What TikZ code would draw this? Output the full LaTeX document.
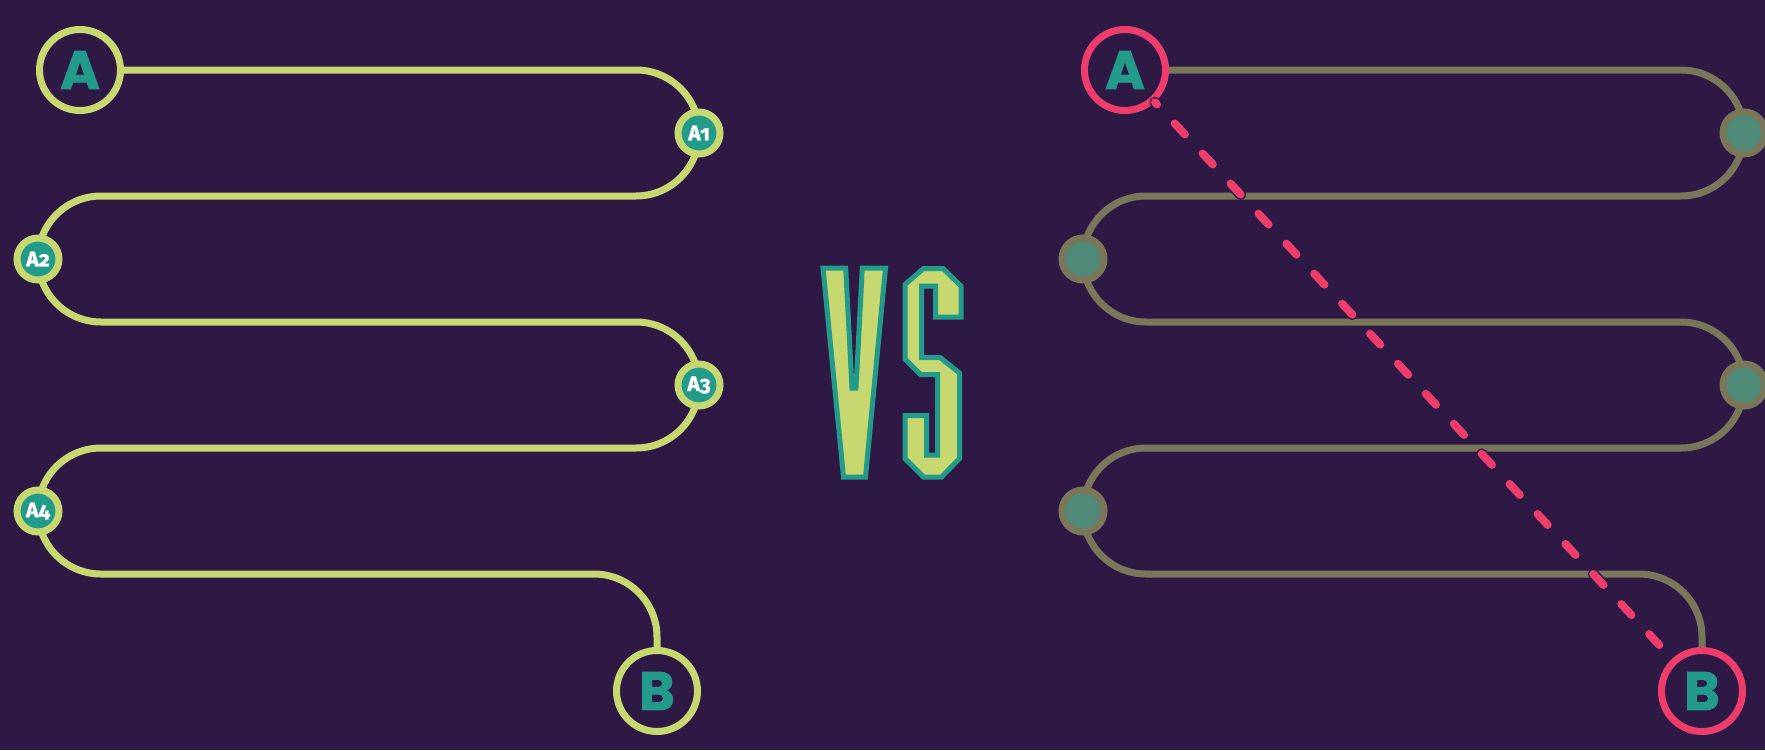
\documentclass[tikz,border=0pt]{standalone}
\usepackage{fontspec}
\setmainfont{Fira Sans}
\newfontfamily\bigfont{Poppins}[BoldFeatures={FakeBold=1.5}]
\newfontfamily\smallfont{Fira Sans}[Numbers=OldStyle,BoldFeatures={FakeBold=1.5}]
\definecolor{bg}{HTML}{2E1945}
\definecolor{limec}{HTML}{C8D870}
\definecolor{tealc}{HTML}{229B8B}
\definecolor{pinkc}{HTML}{EE3D6B}
\definecolor{olivec}{HTML}{7A7659}
\definecolor{mutedc}{HTML}{4E8A77}
\begin{document}
\begin{tikzpicture}[x=1pt,y=-1pt,
  bignode/.style={circle,line width=7pt,minimum size=81pt,inner sep=0pt,fill=bg,
    text=tealc,font=\bigfont\bfseries\fontsize{54}{54}\selectfont},
  smallnode/.style={circle,line width=7pt,minimum size=42pt,inner sep=0pt,
    text=white,font=\smallfont\bfseries\fontsize{21}{21}\selectfont},
  lpath/.style={draw=limec,line width=7pt},
  rpath/.style={draw=olivec,line width=7pt},
  dashline/.style={line width=#1,line cap=round,dash pattern=on 15pt off 26pt,dash phase=12pt},
  vsletter/.style={fill=limec,draw=tealc,line width=5pt,line join=miter}]
\useasboundingbox (0,0) rectangle (1765,750);
\fill[bg] (0,0) rectangle (1765,750);

% big end nodes
\node[bignode,draw=limec] (A) at (80,70) {A};
\node[bignode,draw=limec] (B) at (657,691) {B};
\node[bignode,draw=pinkc] (RA) at (1125,70) {A};
\node[bignode,draw=pinkc] (RB) at (1702,691) {B};

% left serpentine
\draw[lpath] (A) -- (636,70) arc[start angle=-90,end angle=90,radius=63]
  -- (101,196) arc[start angle=-90,end angle=-270,radius=63]
  -- (636,322) arc[start angle=-90,end angle=90,radius=63]
  -- (101,448) arc[start angle=-90,end angle=-270,radius=63]
  -- (594,574) arc[start angle=-90,end angle=0,radius=63] -- (B);

% right serpentine
\draw[rpath] (RA) -- (1681,70) arc[start angle=-90,end angle=90,radius=63]
  -- (1146,196) arc[start angle=-90,end angle=-270,radius=63]
  -- (1681,322) arc[start angle=-90,end angle=90,radius=63]
  -- (1146,448) arc[start angle=-90,end angle=-270,radius=63]
  -- (1639,574) arc[start angle=-90,end angle=0,radius=63] -- (RB);

% direct dashed route
\draw[bg,dashline=11pt] (RA) -- (RB);
\draw[pinkc,dashline=8pt] (RA) -- (RB);

% waypoint nodes left
\node[smallnode,draw=limec,fill=tealc] (A1) at (699,133) {A1};
\node[smallnode,draw=limec,fill=tealc] (A2) at (38,259) {A2};
\node[smallnode,draw=limec,fill=tealc] (A3) at (699,385) {A3};
\node[smallnode,draw=limec,fill=tealc] (A4) at (38,511) {A4};
% waypoint nodes right
\node[smallnode,draw=olivec,fill=mutedc] (R1) at (1744,133) {};
\node[smallnode,draw=olivec,fill=mutedc] (R2) at (1083,259) {};
\node[smallnode,draw=olivec,fill=mutedc] (R3) at (1744,385) {};
\node[smallnode,draw=olivec,fill=mutedc] (R4) at (1083,511) {};

% VS
\draw[vsletter] (823,268) -- (845.7,268) -- (852,388) -- (856,388) -- (862.3,268)
  -- (885.5,268) -- (865.5,477) -- (843.5,477) -- cycle;
\draw[vsletter] (905,284.5) -- (923.5,268.5) -- (943,268.5) -- (961,286) -- (961,317)
  -- (935.5,317) -- (935.5,286) -- (921.5,286) -- (921.5,357.5) -- (940,357.5)
  -- (959.5,373) -- (959.5,458.5) -- (941.5,477) -- (923.5,477) -- (905,458.5)
  -- (905,415.5) -- (926.5,415.5) -- (926.5,455) -- (937.5,455) -- (937.5,374.5)
  -- (920.5,374.5) -- (905,359) -- cycle;
\end{tikzpicture}
\end{document}
